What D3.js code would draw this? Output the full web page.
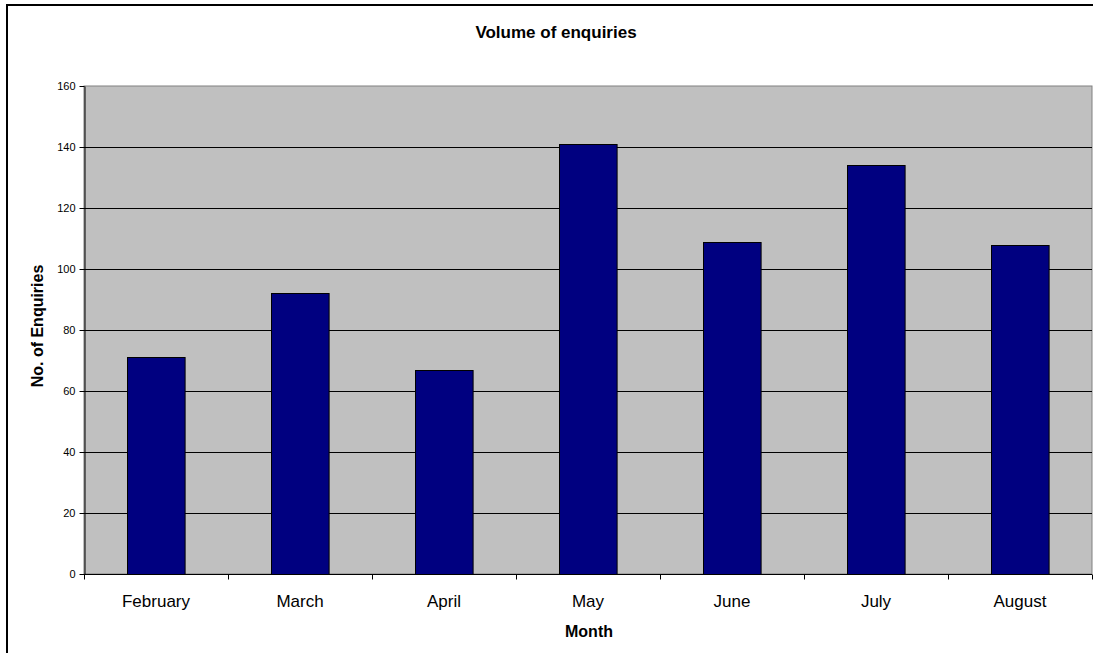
<!DOCTYPE html>
<html>
<head>
<meta charset="utf-8">
<script src="https://cdn.jsdelivr.net/npm/d3@7"></script>
<style>
  body { margin: 0; background: #fff; }
  text { font-family: Arial, "Liberation Sans", sans-serif; fill: #000; }
</style>
</head>
<body>
<div id="chart"></div>
<script>
// chart values
var months = ["February", "March", "April", "May", "June", "July", "August"];
var enquiries = [71, 92, 67, 141, 109, 134, 108];
var yTicks = [0, 20, 40, 60, 80, 100, 120, 140, 160];

var W = 1093, H = 653;
var plot = {left: 84, right: 1092, top: 86, bottom: 574};

var svg = d3.select("#chart")
  .append("svg")
    .attr("width", W)
    .attr("height", H);

// outer chart border (runs off the right/bottom of the picture)
svg.append("rect")
  .attr("x", 7).attr("y", 5)
  .attr("width", W + 20).attr("height", H + 20)
  .attr("fill", "#fff")
  .attr("stroke", "#000")
  .attr("stroke-width", 2);

var x = d3.scaleBand()
  .domain(months)
  .range([plot.left, plot.right])
  .paddingInner(0)
  .paddingOuter(0);

var y = d3.scaleLinear()
  .domain([0, 160])
  .range([plot.bottom, plot.top]);

// plot background
svg.append("rect")
  .attr("x", plot.left).attr("y", plot.top)
  .attr("width", plot.right - plot.left)
  .attr("height", plot.bottom - plot.top)
  .attr("fill", "#c0c0c0")
  .attr("stroke", "#808080")
  .attr("stroke-width", 1);

// gridlines
svg.selectAll(".grid")
  .data(yTicks.filter(function(d){ return d > 0 && d < 160; }))
  .enter()
  .append("line")
    .attr("x1", plot.left).attr("x2", plot.right)
    .attr("y1", function(d){ return Math.round(y(d)) + 0.5; })
    .attr("y2", function(d){ return Math.round(y(d)) + 0.5; })
    .attr("stroke", "#000")
    .attr("stroke-width", 1);

// bars
var barW = x.bandwidth() * 0.4;
svg.selectAll(".bar")
  .data(enquiries)
  .enter()
  .append("rect")
    .attr("x", function(d, i){ return Math.round(x(months[i]) + (x.bandwidth() - barW) / 2) + 0.5; })
    .attr("y", function(d){ return Math.round(y(d)) + 0.5; })
    .attr("width", barW)
    .attr("height", function(d){ return Math.round(y(0)) - Math.round(y(d)); })
    .attr("fill", "#000080")
    .attr("stroke", "#000")
    .attr("stroke-width", 1);

// y axis
var yAxis = svg.append("g")
  .attr("transform", "translate(" + (plot.left + 0.5) + ",0)")
  .call(d3.axisLeft(y).tickValues(yTicks).tickSize(5).tickPadding(4).tickSizeOuter(0));
yAxis.select(".domain").attr("stroke", "#000");
yAxis.selectAll("text").style("font-size", "11px").style("font-family", "Arial, 'Liberation Sans', sans-serif");

// x axis: ticks on category boundaries
var xAxis = svg.append("g")
  .attr("transform", "translate(0," + (plot.bottom + 0.5) + ")");
xAxis.append("line")
  .attr("x1", plot.left).attr("x2", plot.right)
  .attr("stroke", "#000");
xAxis.selectAll(".xtick")
  .data(months.concat(["end"]))
  .enter()
  .append("line")
    .attr("x1", function(d, i){ return Math.round(plot.left + i * x.bandwidth()) + 0.5; })
    .attr("x2", function(d, i){ return Math.round(plot.left + i * x.bandwidth()) + 0.5; })
    .attr("y1", 0).attr("y2", 5)
    .attr("stroke", "#000");
xAxis.selectAll(".xlabel")
  .data(months)
  .enter()
  .append("text")
    .attr("x", function(d){ return x(d) + x.bandwidth() / 2; })
    .attr("y", 32)
    .attr("text-anchor", "middle")
    .style("font-size", "17px")
    .text(function(d){ return d; });

// titles
svg.append("text")
  .attr("x", 556).attr("y", 38)
  .attr("text-anchor", "middle")
  .style("font-size", "17px")
  .style("font-weight", "bold")
  .text("Volume of enquiries");

svg.append("text")
  .attr("x", 589).attr("y", 637)
  .attr("text-anchor", "middle")
  .style("font-size", "16px")
  .style("font-weight", "bold")
  .text("Month");

svg.append("text")
  .attr("transform", "translate(43," + 326 + ") rotate(-90)")
  .attr("text-anchor", "middle")
  .style("font-size", "16px")
  .style("font-weight", "bold")
  .text("No. of Enquiries");
</script>
</body>
</html>
